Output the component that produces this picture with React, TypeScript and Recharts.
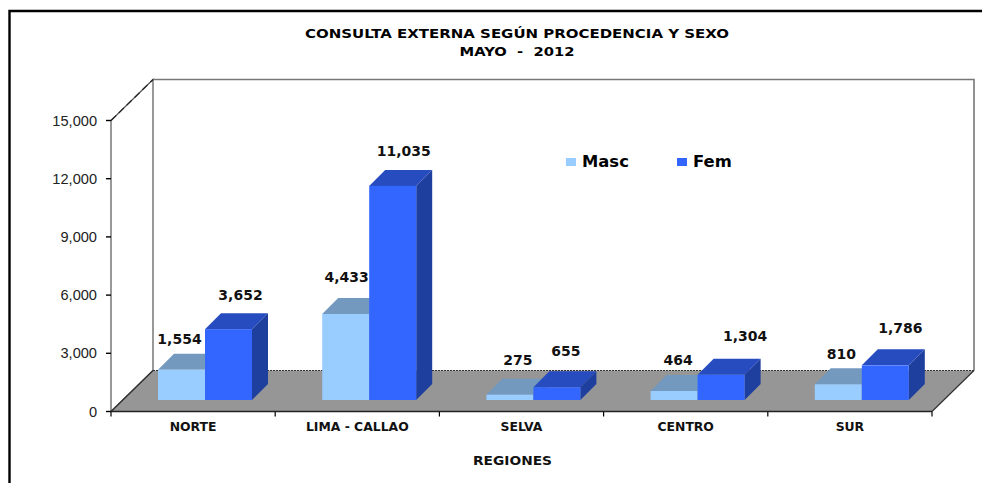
import React from 'react';
import { BarChart, Bar, XAxis, YAxis, Legend, LabelList, Customized, usePlotArea } from 'recharts';

const categories = ['NORTE', 'LIMA - CALLAO', 'SELVA', 'CENTRO', 'SUR'];
const masc = [1554, 4433, 275, 464, 810];
const fem = [3652, 11035, 655, 1304, 1786];
const yTicks = [0, 3000, 6000, 9000, 12000, 15000];
const titleLines = ['CONSULTA EXTERNA SEGÚN PROCEDENCIA Y SEXO', 'MAYO  -  2012'];
const titleWidths = [424, 115];
const xAxisTitle = 'REGIONES';

const rows = categories.map((name, i) => ({ name, Masc: masc[i], Fem: fem[i] }));

const BOLD = '"DejaVu Sans", sans-serif';
const MASC_COLORS = { front: '#99CCFF', top: '#7399BF', side: '#5C7A99' };
const FEM_COLORS = { front: '#3366FF', top: '#264CBF', side: '#1F3F9F' };
// floor / wall perspective offset
const WALL_DX = 42;
const WALL_DY = 41;
// where bars sit on the floor relative to the front axis
const BAR_DX = 12;
const BAR_DY = 11.5;
const BOX_D = 16;
// hand-placed label nudges relative to the bar's front-top centre
const mascNudge = [[-2, -30], [1, -36], [8, -34], [4, -30], [3, -29]];
const femNudge = [[12, -33], [11, -34], [9, -35], [24, -38], [15, -36]];

function Box(props: any) {
  const { x, y, width, height, colors } = props;
  const l = x + BAR_DX;
  const t = y - BAR_DY;
  const h = height;
  const r = l + width;
  const b = t + h;
  const d = BOX_D;
  return (
    <g>
      <polygon points={`${l},${t} ${l + d},${t - d} ${r + d},${t - d} ${r},${t}`} fill={colors.top} />
      <polygon points={`${r},${t} ${r + d},${t - d} ${r + d},${b - d} ${r},${b}`} fill={colors.side} />
      <rect x={l} y={t} width={width} height={h} fill={colors.front} />
    </g>
  );
}

function makeLabel(nudge: number[][]) {
  return function BarLabel(props: any) {
    const { x, y, width, value, index } = props;
    const [nx, ny] = nudge[index];
    return (
      <text
        x={x + BAR_DX + width / 2 + nx}
        y={y - BAR_DY + ny}
        textAnchor="middle"
        dominantBaseline="middle"
        fontFamily={BOLD}
        fontWeight="bold"
        fontSize={14}
        fill="#111"
      >
        {Number(value).toLocaleString('en-US')}
      </text>
    );
  };
}

function Scene() {
  const area = usePlotArea();
  if (!area) return null;
  const { x, y, width, height } = area;
  const r = x + width;
  const b = y + height;
  const band = width / categories.length;
  return (
    <g>
      <rect x={0} y={0} width={982} height={483} fill="#fff" />
      <path d="M9.5 483 V11 H982" fill="none" stroke="#000" strokeWidth={2.4} />
      {titleLines.map((t, i) => (
        <text key={i} x={517} y={34 + i * 18} textAnchor="middle" dominantBaseline="middle" fontFamily={BOLD} fontWeight="bold" fontSize={12.6} fill="#000" textLength={titleWidths[i]} lengthAdjust="spacingAndGlyphs" style={{ whiteSpace: 'pre' }}>
          {t}
        </text>
      ))}
      <text x={512.5} y={461} textAnchor="middle" dominantBaseline="middle" fontFamily={BOLD} fontWeight="bold" fontSize={12} fill="#111" textLength={79} lengthAdjust="spacingAndGlyphs">
        {xAxisTitle}
      </text>
      <polygon points={`${x},${b} ${r},${b} ${r + WALL_DX},${b - WALL_DY} ${x + WALL_DX},${b - WALL_DY}`} fill="#969696" />
      <path d={`M${x} ${b} V${y} L${x + WALL_DX} ${y - WALL_DY} V${b - WALL_DY} L${x} ${b}`} fill="none" stroke="#555" strokeWidth={1.2} />
      <path d={`M${x + WALL_DX} ${y - WALL_DY} H${r + WALL_DX} V${b - WALL_DY}`} fill="none" stroke="#777" strokeWidth={1.6} />
      <path d={`M${x} ${y} L${x + WALL_DX} ${y - WALL_DY}`} fill="none" stroke="#222" strokeWidth={1.2} strokeDasharray="7 4" />
      <path d={`M${x + WALL_DX} ${b - WALL_DY} H${r + WALL_DX}`} fill="none" stroke="#333" strokeWidth={1.2} strokeDasharray="2 1" />
      <path d={`M${x} ${b} L${x + WALL_DX} ${b - WALL_DY}`} fill="none" stroke="#333" strokeWidth={1.2} />
      <path d={`M${r} ${b} L${r + WALL_DX} ${b - WALL_DY}`} fill="none" stroke="#333" strokeWidth={1.2} />
      {categories.map((_, i) => (
        <line key={i} x1={x + band * i} x2={x + band * i} y1={b} y2={b + 5} stroke="#000" strokeWidth={1.2} />
      ))}
      <line x1={r} x2={r} y1={b} y2={b + 5} stroke="#000" strokeWidth={1.2} />
    </g>
  );
}

const legendContent = () => (
  <div style={{ display: 'flex', fontFamily: BOLD, fontWeight: 'bold', fontSize: 16.4, color: '#000', lineHeight: '20px' }}>
    {[
      { name: 'Masc', color: MASC_COLORS.front, w: 111 },
      { name: 'Fem', color: FEM_COLORS.front, w: 70 },
    ].map((it) => (
      <div key={it.name} style={{ display: 'flex', alignItems: 'center', width: it.w }}>
        <span style={{ width: 10, height: 8, background: it.color, marginRight: 6, display: 'inline-block' }} />
        {it.name}
      </div>
    ))}
  </div>
);

export default function App() {
  return (
    <div style={{ position: 'absolute', left: 0, top: 0, width: 982, height: 483, background: '#fff' }}>
      <BarChart
        width={982}
        height={483}
        data={rows}
        margin={{ top: 120.5, right: 50, bottom: 0, left: 0 }}
        barSize={47}
        barGap={0}
      >
        <Customized component={Scene} />
        <XAxis
          dataKey="name"
          height={71.5}
          axisLine={{ stroke: '#222', strokeWidth: 1.6 }}
          tickLine={false}
          interval={0}
          tick={{ fontFamily: BOLD, fontWeight: 'bold', fontSize: 12.4, fill: '#111' }}
          tickMargin={5}
        />
        <YAxis
          width={111}
          domain={[0, 15000]}
          ticks={yTicks}
          interval={0}
          axisLine={false}
          tickSize={5}
          tickLine={{ stroke: '#000', strokeWidth: 1.4 }}
          tickFormatter={(v: number) => v.toLocaleString('en-US')}
          tick={{ fontFamily: '"Liberation Sans", Arial, sans-serif', fontSize: 14.6, fill: '#222' }}
          tickMargin={9}
        />
        <Legend
          layout="horizontal"
          verticalAlign="middle"
          align="center"
          content={legendContent}
          wrapperStyle={{ position: 'absolute', left: 566, top: 152, width: 200, height: 20, margin: 0 }}
        />
        <Bar dataKey="Masc" isAnimationActive={false} shape={(p: any) => <Box {...p} colors={MASC_COLORS} />}>
          <LabelList dataKey="Masc" content={makeLabel(mascNudge)} />
        </Bar>
        <Bar dataKey="Fem" isAnimationActive={false} shape={(p: any) => <Box {...p} colors={FEM_COLORS} />}>
          <LabelList dataKey="Fem" content={makeLabel(femNudge)} />
        </Bar>
      </BarChart>
    </div>
  );
}
